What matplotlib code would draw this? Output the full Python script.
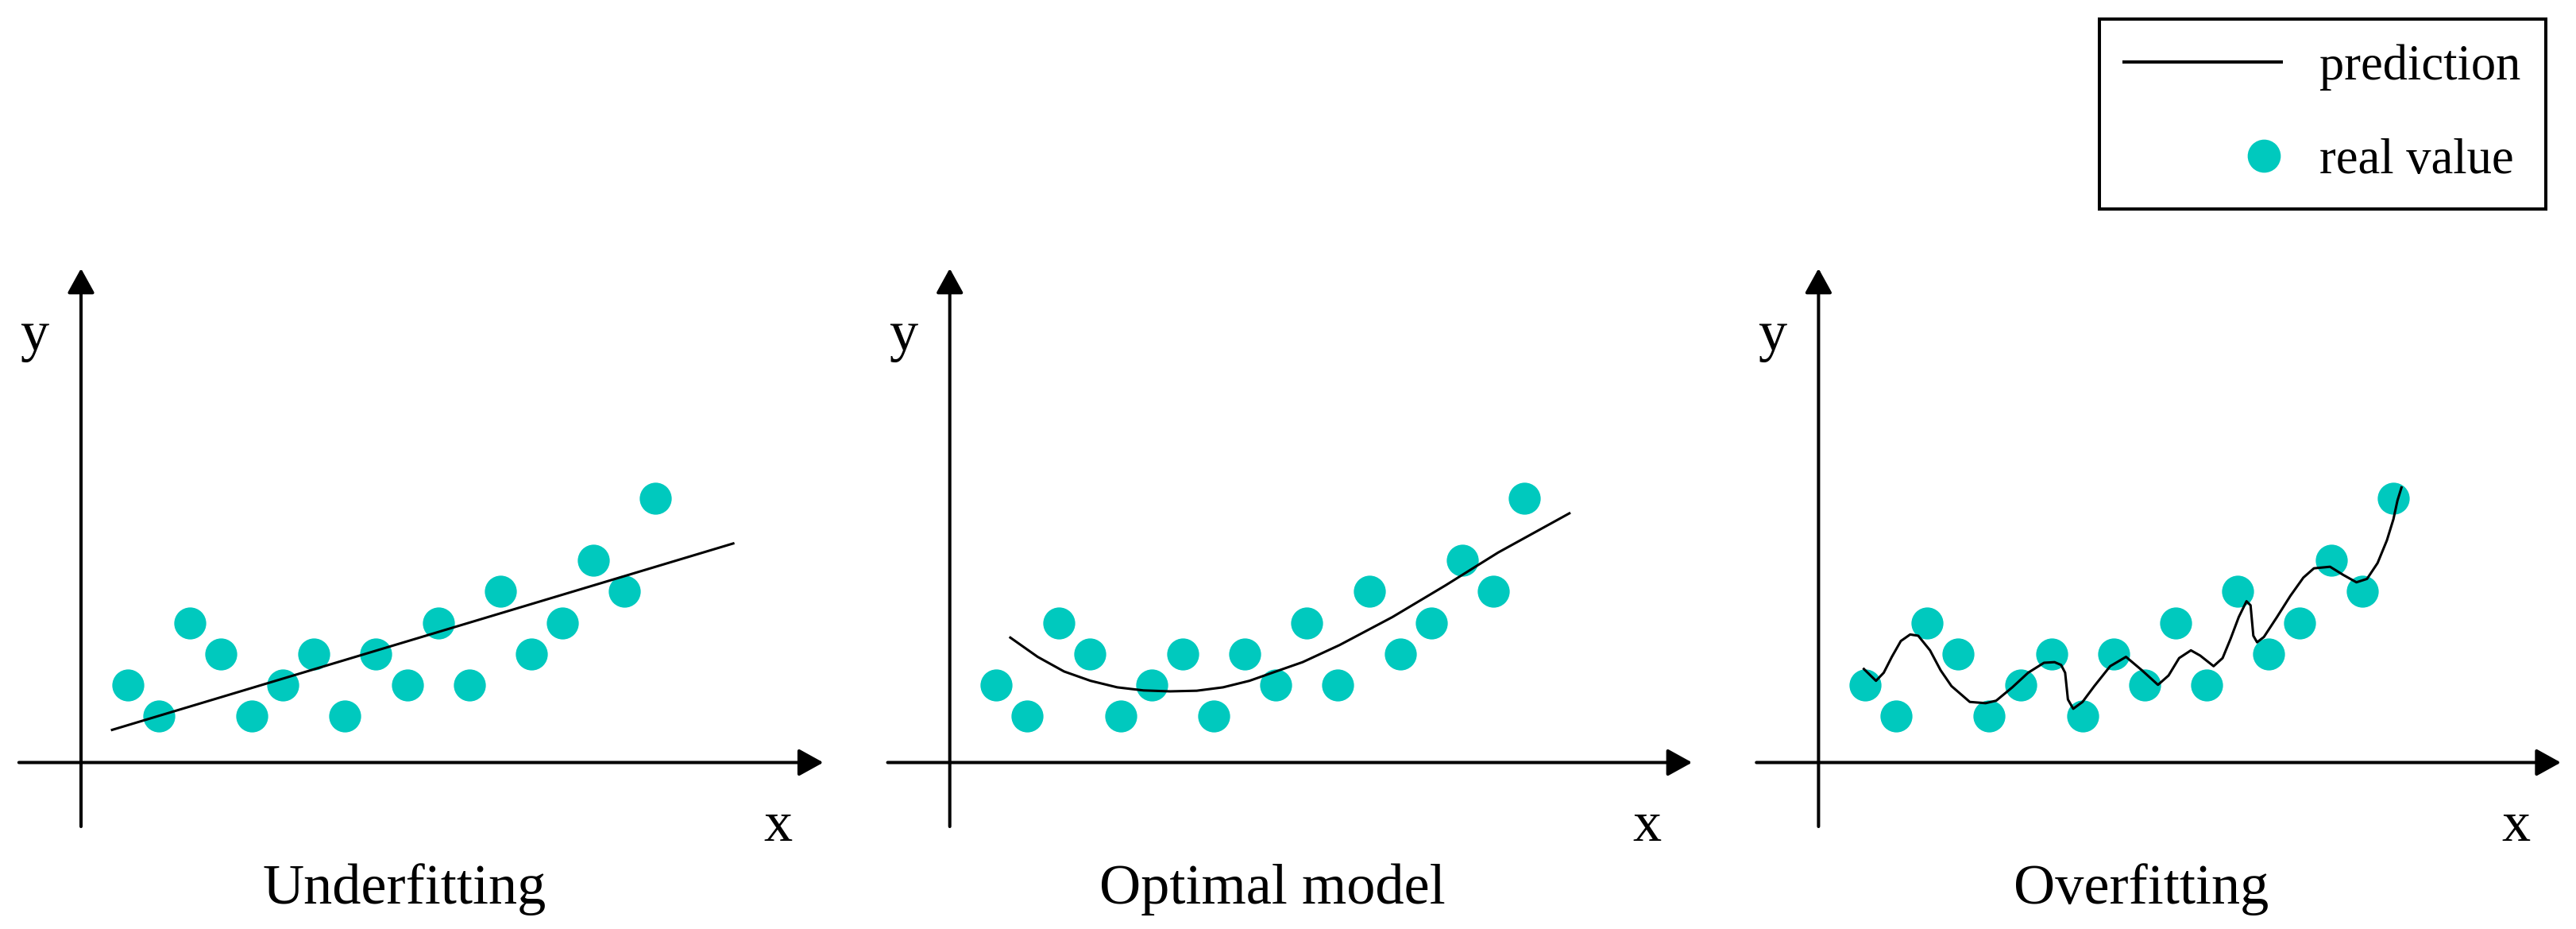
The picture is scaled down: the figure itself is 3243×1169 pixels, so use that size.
import matplotlib.pyplot as plt
from matplotlib.lines import Line2D
from matplotlib.legend_handler import HandlerLine2D

# real values (same points in all three panels)
punkt_x = [1.5, 2.5, 3.5, 4.5, 5.5, 6.5, 7.5, 8.5, 9.5, 10.5, 11.5, 12.5, 13.5, 14.5, 15.5, 16.5, 17.5, 18.5]
punkt_y = [2.5, 1.5, 4.5, 3.5, 1.5, 2.5, 3.5, 1.5, 3.5, 2.5, 4.5, 2.5, 5.5, 3.5, 4.5, 6.5, 5.5, 8.5]

# prediction curves
under_x = [1.0, 21.0]
under_y = [1.05, 7.05]

optimal_x = [1.95, 2.83, 3.68, 4.53, 5.39, 6.24, 7.09, 7.95, 8.80, 9.65, 10.50, 11.36, 12.55, 14.25, 15.96, 17.66, 19.95]
optimal_y = [4.02, 3.40, 2.93, 2.63, 2.42, 2.32, 2.29, 2.31, 2.42, 2.63, 2.93, 3.23, 3.78, 4.68, 5.70, 6.76, 8.02]

over_x = [1.46, 1.85, 2.10, 2.36, 2.65, 2.95, 3.21, 3.59, 3.93, 4.28, 4.87, 5.38, 5.72, 6.24, 6.75, 7.26,
          7.60, 7.81, 7.94, 8.03, 8.20, 8.50, 8.88, 9.39, 9.90, 10.41, 10.93, 11.27, 11.61, 11.99, 12.29,
          12.72, 13.01, 13.27, 13.53, 13.78, 13.91, 14.00, 14.12, 14.34, 14.76, 15.19, 15.61, 15.95, 16.47,
          16.89, 17.32, 17.66, 18.00, 18.30, 18.51, 18.64, 18.77]
over_y = [3.01, 2.63, 2.89, 3.40, 3.91, 4.12, 4.08, 3.61, 2.97, 2.46, 1.95, 1.91, 1.99, 2.42, 2.89, 3.21,
          3.23, 3.14, 2.89, 2.03, 1.73, 1.95, 2.46, 3.10, 3.40, 2.97, 2.50, 2.80, 3.36, 3.61, 3.44,
          3.10, 3.36, 3.99, 4.68, 5.19, 5.06, 4.08, 3.87, 4.04, 4.68, 5.36, 5.95, 6.25, 6.30,
          6.04, 5.80, 5.91, 6.42, 7.15, 7.83, 8.43, 8.85]

titler = ["Underfitting", "Optimal model", "Overfitting"]
kurver = [(under_x, under_y), (optimal_x, optimal_y), (over_x, over_y)]

farge = "#00C9BE"
plt.rcParams["font.family"] = ["Liberation Serif", "DejaVu Serif"]

W, H = 3243, 1169
enhet = 39.1
fig = plt.figure(figsize=(W / 100, H / 100), dpi=100)

for k in range(3):
    origo_x = 102 + 1093.7 * k
    venstre = (origo_x - 2.3 * enhet) / W
    bunn = (H - (959.5 + 5 * enhet)) / H
    ax = fig.add_axes([venstre, bunn, 26.6 * enhet / W, 21.5 * enhet / H])
    ax.set_xlim(-2.3, 24.3)
    ax.set_ylim(-5, 16.5)
    ax.axis("off")

    pil = dict(arrowstyle="-|>,head_length=19,head_width=10.5", mutation_scale=1,
               lw=2.9, color="black", shrinkA=0, shrinkB=0)
    ax.annotate("", xy=(23.9, 0), xytext=(-2.0, 0), arrowprops=pil)
    ax.annotate("", xy=(0, 15.9), xytext=(0, -2.06), arrowprops=pil)

    ax.scatter(punkt_x, punkt_y, s=29 ** 2, color=farge, linewidths=0, zorder=2)
    kx, ky = kurver[k]
    ax.plot(kx, ky, color="black", lw=2.2, zorder=3)

    ax.text(-1.5, 13.7, "y", fontsize=52, ha="center", va="center")
    ax.text(22.45, -2.06, "x", fontsize=52, ha="center", va="center")
    ax.text(10.4, -4.54, titler[k], fontsize=52, ha="center", va="baseline")


class MarkorTilHoyre(HandlerLine2D):
    # single marker sits near the right end of the handle, as in the original
    def get_xdata(self, legend, xdescent, ydescent, width, height, fontsize):
        return [-xdescent + 0.78 * width, -xdescent + width], [-xdescent + 0.89 * width]


linje = Line2D([], [], color="black", lw=2.9)
prikk = Line2D([], [], ls="none", marker="o", markersize=30, markerfacecolor=farge, markeredgewidth=0)
leg = fig.legend([linje, prikk], ["prediction", "real value"], loc="upper right",
                 bbox_to_anchor=(3205 / W, 1 - 24 / H), borderaxespad=0, fontsize=45,
                 handlelength=3.17, handletextpad=0.77, labelspacing=0.96, borderpad=0.5,
                 numpoints=1, fancybox=False, framealpha=1, edgecolor="black",
                 handler_map={prikk: MarkorTilHoyre()})
leg.get_frame().set_linewidth(2.9)

fig.savefig("out.png", dpi=100)
